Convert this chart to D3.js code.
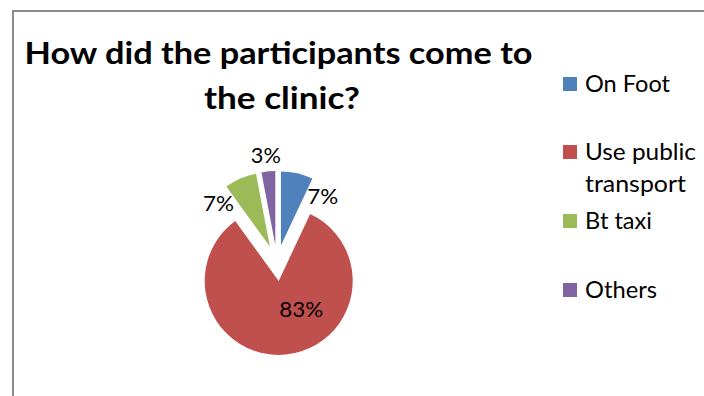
<!DOCTYPE html>
<html>
<head>
<meta charset="utf-8">
<script src="https://cdn.jsdelivr.net/npm/d3@7"></script>
<style>
  html, body { margin: 0; padding: 0; background: #fff; }
  svg { display: block; font-family: Lato, "Open Sans", sans-serif; }
</style>
</head>
<body>
<svg id="chart" width="704" height="396"></svg>
<script>
// Survey answers: how participants travelled to the clinic (percent)
const categories = ["On Foot", "Use public transport", "Bt taxi", "Others"];
const values = [7, 83, 7, 3];
const colors = ["#4F81BD", "#C0504D", "#9BBB59", "#8064A2"];
const titleLines = ["How did the participants come to", "the clinic?"];
const legendLines = [["On Foot"], ["Use public", "transport"], ["Bt taxi"], ["Others"]];

const svg = d3.select("#chart");
const W = 704, H = 396;

// chart frame (extends past the right and bottom edge)
svg.append("rect")
  .attr("x", 13).attr("y", 11)
  .attr("width", W + 20).attr("height", H + 20)
  .attr("fill", "#fff")
  .attr("stroke", "#8c8c8c")
  .attr("stroke-width", 2);

// title
const titleSpecs = [
  { cx: 278.5, y: 64, len: 508 },
  { cx: 282, y: 109, len: 156 }
];
svg.append("g").selectAll("text")
  .data(titleLines)
  .join("text")
  .attr("x", (d, i) => titleSpecs[i].cx)
  .attr("y", (d, i) => titleSpecs[i].y)
  .attr("text-anchor", "middle")
  .attr("font-weight", "bold")
  .attr("font-size", 31)
  .attr("textLength", (d, i) => titleSpecs[i].len)
  .attr("lengthAdjust", "spacingAndGlyphs")
  .attr("fill", "#000")
  .text(d => d);

// exploded pie
const cx = 277, cy = 263, radius = 74, explode = 18;
const pie = d3.pie().sort(null).value(d => d.v).startAngle(0).endAngle(2 * Math.PI);
const arc = d3.arc().innerRadius(0).outerRadius(radius);
const slices = pie(values.map((v, i) => ({ v, i })));

const pieG = svg.append("g").attr("transform", `translate(${cx},${cy})`);
const mid = d => (d.startAngle + d.endAngle) / 2;
const shift = d => [Math.sin(mid(d)) * explode, -Math.cos(mid(d)) * explode];

pieG.selectAll("path")
  .data(slices)
  .join("path")
  .attr("transform", d => `translate(${shift(d)})`)
  .attr("d", arc)
  .attr("fill", d => colors[d.data.i]);

// data labels, placed around each slice's apex (angle in degrees, distance in px)
const labelPlacement = [
  { angle: 40, dist: 65, len: 31 },
  { angle: 141, dist: 36, len: 44 },
  { angle: 310, dist: 67, len: 31 },
  { angle: 354, dist: 91, len: 30 }
];
pieG.selectAll("text")
  .data(slices)
  .join("text")
  .attr("transform", d => {
    const p = labelPlacement[d.data.i];
    const a = p.angle * Math.PI / 180;
    const [sx, sy] = shift(d);
    return `translate(${sx + Math.sin(a) * p.dist},${sy - Math.cos(a) * p.dist})`;
  })
  .attr("text-anchor", "middle")
  .attr("dy", "0.36em")
  .attr("font-size", 22)
  .attr("textLength", d => labelPlacement[d.data.i].len)
  .attr("lengthAdjust", "spacingAndGlyphs")
  .attr("fill", "#000")
  .text(d => d3.format(".0%")(d.data.v / 100));

// legend
const legendTops = [77, 145, 214, 283];
const legendWidths = [[85], [111, 101], [67], [72]];
const legend = svg.append("g");
const items = legend.selectAll("g")
  .data(categories)
  .join("g")
  .attr("transform", (d, i) => `translate(563,${legendTops[i]})`);
items.append("rect")
  .attr("width", 14).attr("height", 14)
  .attr("fill", (d, i) => colors[i]);
items.each(function (d, i) {
  d3.select(this).selectAll("text")
    .data(legendLines[i])
    .join("text")
    .attr("x", 22)
    .attr("y", (t, j) => 14.5 + j * 32)
    .attr("font-size", 23)
    .attr("textLength", (t, j) => legendWidths[i][j])
    .attr("lengthAdjust", "spacingAndGlyphs")
    .attr("fill", "#000")
    .text(t => t);
});
</script>
</body>
</html>
